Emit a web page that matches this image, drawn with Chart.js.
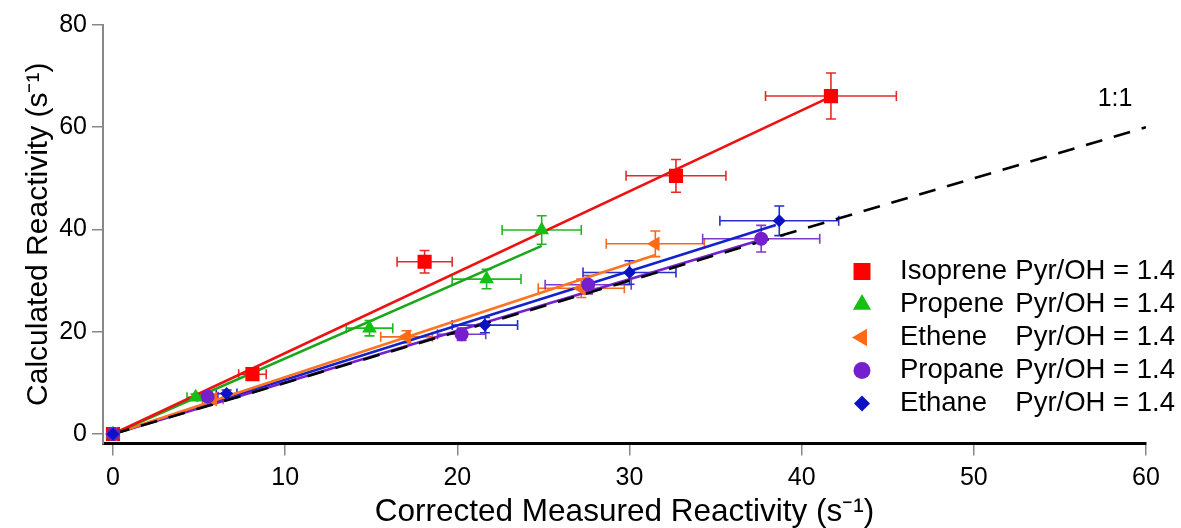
<!DOCTYPE html>
<html>
<head>
<meta charset="utf-8">
<script src="https://cdn.jsdelivr.net/npm/chart.js@4.4.1/dist/chart.umd.min.js"></script>
<style>
  html, body { margin: 0; padding: 0; background: #fff; }
  #wrap { width: 1181px; height: 528px; }
</style>
</head>
<body>
<div id="wrap"><canvas id="chart"></canvas></div>
<script>
const FONT = "'Liberation Sans', Arial, sans-serif";

// ── Dados ──────────────────────────────────────────────────────
const xTicks = [0, 10, 20, 30, 40, 50, 60];
const yTicks = [0, 20, 40, 60, 80];

const names = ['Isoprene', 'Propene', 'Ethene', 'Propane', 'Ethane'];
const ratioText = 'Pyr/OH = 1.4';

const isopreneX    = [0, 8.1, 18.1, 32.7, 41.7];
const isopreneY    = [0, 11.7, 33.7, 50.5, 66.1];
const isopreneXErr = [0.2, 0.8, 1.6, 2.9, 3.8];
const isopreneYErr = [0.3, 1.1, 2.2, 3.2, 4.5];

const propeneX     = [0, 4.8, 14.9, 21.7, 24.9];
const propeneY     = [0, 7.2, 20.7, 30.3, 39.9];
const propeneXErr  = [0.2, 0.5, 1.35, 2.0, 2.3];
const propeneYErr  = [0.3, 0.6, 1.5, 1.9, 2.8];

const etheneX      = [0, 5.8, 17.05, 27.2, 31.5];
const etheneY      = [0, 6.8, 19.0, 28.5, 37.2];
const etheneXErr   = [0.2, 0.6, 1.5, 2.5, 2.85];
const etheneYErr   = [0.3, 0.6, 1.2, 1.8, 2.5];

const propaneX     = [0, 5.5, 20.25, 27.6, 37.65];
const propaneY     = [0, 7.3, 19.5, 29.2, 38.2];
const propaneXErr  = [0.2, 0.6, 1.4, 2.5, 3.4];
const propaneYErr  = [0.3, 0.6, 1.2, 1.8, 2.6];

const ethaneX      = [0, 6.6, 21.6, 30.0, 38.7];
const ethaneY      = [0, 7.9, 21.3, 31.6, 41.7];
const ethaneXErr   = [0.2, 0.6, 1.9, 2.7, 3.45];
const ethaneYErr   = [0.3, 0.7, 1.5, 2.3, 2.9];

// retas de ajuste: início e fim de cada uma
const fitStartX = [0, 0, 0, 0, 0];
const fitStartY = [0, 0, 0, 0, 0];
const fitEndX   = [41.7, 24.9, 31.5, 37.65, 38.5];
const fitEndY   = [66.0, 36.8, 35.0, 38.0, 40.9];

const oneToOneX = [0, 60];
const oneToOneY = [0, 60];
const oneToOneLabel = { text: '1:1', x: 58.2, y: 65.6 };

// ── Estilos ────────────────────────────────────────────────────
const markerColor = ['#ff0000', '#14c014', '#ff6a16', '#7420cc', '#0a12c4'];
const errColor    = ['#e52a2a', '#1fb81f', '#f26a22', '#7d3ad0', '#2430c8'];
const lineColor   = ['#ee1111', '#1aa81a', '#ff7420', '#7420cc', '#1422cc'];
const markerStyle = ['rect', 'triangle', 'triangle', 'circle', 'rectRot'];
const markerRot   = [0, 0, -90, 0, 0];
const markerSize  = [10, 8.5, 8.5, 7, 6.5];
const legendSize  = [12, 10.5, 10, 8.5, 8];

function pts(xs, ys) { return xs.map((x, i) => ({ x, y: ys[i] })); }

const seriesX = [isopreneX, propeneX, etheneX, propaneX, ethaneX];
const seriesY = [isopreneY, propeneY, etheneY, propaneY, ethaneY];
const seriesXErr = [isopreneXErr, propeneXErr, etheneXErr, propaneXErr, ethaneXErr];
const seriesYErr = [isopreneYErr, propeneYErr, etheneYErr, propaneYErr, ethaneYErr];

const datasets = [];
names.forEach((n, i) => {
  datasets.push({
    label: n,
    data: pts(seriesX[i], seriesY[i]),
    xErr: seriesXErr[i], yErr: seriesYErr[i], errColor: errColor[i],
    backgroundColor: markerColor[i], borderColor: markerColor[i], borderWidth: 0,
    pointStyle: markerStyle[i], rotation: markerRot[i], pointRadius: markerSize[i],
    order: -i, legendIdx: i   // último da lista fica por cima
  });
});
names.forEach((n, i) => {
  datasets.push({
    label: n + ' fit',
    data: pts([fitStartX[i], fitEndX[i]], [fitStartY[i], fitEndY[i]]),
    showLine: true, borderColor: lineColor[i], borderWidth: 2.6, pointRadius: 0, order: 2
  });
});
datasets.push({
  label: '1:1',
  data: pts(oneToOneX, oneToOneY),
  showLine: true, borderColor: '#000', borderWidth: 2.6, borderDash: [17, 12], pointRadius: 0, order: 1
});

// ── Plugins ────────────────────────────────────────────────────
const errorBars = {
  id: 'errorBars',
  beforeDatasetsDraw(chart) {
    const { ctx, scales: { x, y } } = chart;
    const cap = 5;
    ctx.save();
    ctx.lineWidth = 1.6;
    chart.data.datasets.forEach(ds => {
      if (!ds.xErr) return;
      ctx.strokeStyle = ds.errColor;
      ds.data.forEach((p, i) => {
        if (!p.x && !p.y) return;
        const px = x.getPixelForValue(p.x), py = y.getPixelForValue(p.y);
        const x0 = x.getPixelForValue(p.x - ds.xErr[i]), x1 = x.getPixelForValue(p.x + ds.xErr[i]);
        const y0 = y.getPixelForValue(p.y - ds.yErr[i]), y1 = y.getPixelForValue(p.y + ds.yErr[i]);
        ctx.beginPath();
        ctx.moveTo(x0, py); ctx.lineTo(x1, py);
        ctx.moveTo(x0, py - cap); ctx.lineTo(x0, py + cap);
        ctx.moveTo(x1, py - cap); ctx.lineTo(x1, py + cap);
        ctx.moveTo(px, y0); ctx.lineTo(px, y1);
        ctx.moveTo(px - cap, y0); ctx.lineTo(px + cap, y0);
        ctx.moveTo(px - cap, y1); ctx.lineTo(px + cap, y1);
        ctx.stroke();
      });
    });
    ctx.restore();
  }
};

const legendBox = {
  id: 'legendBox',
  afterDraw(chart) {
    const { ctx, scales: { x, y } } = chart;
    ctx.save();
    // rótulo 1:1
    ctx.fillStyle = '#000';
    ctx.font = '25px ' + FONT;
    ctx.textAlign = 'center'; ctx.textBaseline = 'middle';
    ctx.fillText(oneToOneLabel.text, x.getPixelForValue(oneToOneLabel.x), y.getPixelForValue(oneToOneLabel.y));
    // legenda
    const top = 271.5, step = 33, mx = 862, tx = 900, rx = 1175;
    chart.data.datasets.forEach(ds => {
      if (ds.legendIdx === undefined) return;
      const i = ds.legendIdx, yy = top + i * step;
      ctx.fillStyle = ds.backgroundColor; ctx.strokeStyle = ds.backgroundColor;
      Chart.helpers.drawPoint(ctx, { pointStyle: ds.pointStyle, rotation: ds.rotation, radius: legendSize[i], borderWidth: 0 }, mx, yy);
      ctx.fillStyle = '#000';
      ctx.font = '27.5px ' + FONT;
      ctx.textAlign = 'left';
      ctx.fillText(ds.label, tx, yy);
      ctx.textAlign = 'right';
      ctx.fillText(ratioText, rx, yy);
    });
    ctx.restore();
  }
};

// ── Gráfico ────────────────────────────────────────────────────
new Chart(document.getElementById('chart'), {
  type: 'scatter',
  data: { datasets },
  plugins: [errorBars, legendBox],
  options: {
    responsive: true, maintainAspectRatio: false, animation: false,
    layout: { padding: { top: 25, right: 35, left: 0, bottom: 0 } },
    plugins: { legend: { display: false }, tooltip: { enabled: false } },
    scales: {
      x: {
        type: 'linear', min: -0.58, max: 60,
        afterBuildTicks: s => { s.ticks = xTicks.map(v => ({ value: v })); },
        afterFit: s => { s.height = 84.5; },
        ticks: { color: '#000', font: { family: FONT, size: 25 }, padding: 8 },
        grid: { drawOnChartArea: false, drawTicks: true, tickLength: 12, color: '#888', lineWidth: 1.5 },
        border: { color: '#000', width: 3 },
        title: {
          display: true, text: 'Corrected Measured Reactivity (s⁻¹)', color: '#000',
          font: { family: FONT, size: 31.5, lineHeight: 1 }, padding: { top: 0, bottom: 0 }
        }
      },
      y: {
        type: 'linear', min: -1.86, max: 80,
        afterBuildTicks: s => { s.ticks = yTicks.map(v => ({ value: v })); },
        afterFit: s => { s.width = 103; },
        ticks: { color: '#000', font: { family: FONT, size: 25 }, padding: 5 },
        grid: { drawOnChartArea: false, drawTicks: true, tickLength: 11, color: '#888', lineWidth: 1.5 },
        border: { color: '#888', width: 2 },
        title: {
          display: true, text: 'Calculated Reactivity (s⁻¹)', color: '#000',
          font: { family: FONT, size: 30, lineHeight: 1 }, padding: { top: 24, bottom: 0 }
        }
      }
    }
  }
});
</script>
</body>
</html>
